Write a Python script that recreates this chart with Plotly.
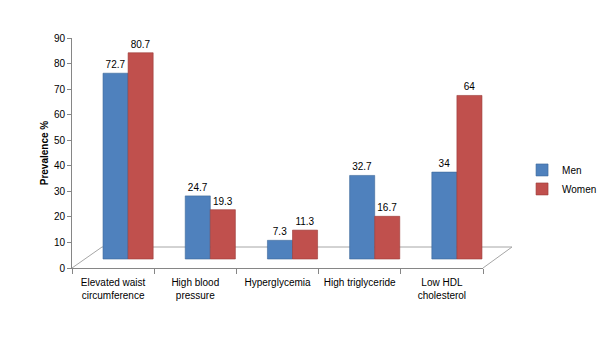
import plotly.graph_objects as go

categories = ["Elevated waist<br>circumference", "High blood<br>pressure", "Hyperglycemia",
              "High triglyceride", "Low HDL<br>cholesterol"]
men = [72.7, 24.7, 7.3, 32.7, 34]
women = [80.7, 19.3, 11.3, 16.7, 64]
men_labels = ["72.7", "24.7", "7.3", "32.7", "34"]
women_labels = ["80.7", "19.3", "11.3", "16.7", "64"]

W, H = 601, 362
L, R, T, B = 72, 483, 38, 268  # plot area pixel bounds
pw, ph = R - L, B - T
dx_px, dy_px = 15, 9  # pseudo-3D depth offset for the bars
cat_w = pw / 5
x_shift = dx_px / cat_w
y_shift = dy_px / (ph / 90)

font = "Liberation Sans, Arial, sans-serif"
blue = "#4F81BD"
red = "#C0504D"

fig = go.Figure()
# invisible trace to populate the visible category axis
fig.add_trace(go.Scatter(x=categories, y=[0] * 5, mode="markers", marker=dict(opacity=0),
                         showlegend=False, hoverinfo="skip", xaxis="x", yaxis="y"))
fig.add_trace(go.Bar(name="Men", x=categories, y=men, text=men_labels, textposition="outside",
                     marker=dict(color=blue, line=dict(color="#3A6699", width=0.6)),
                     textfont=dict(size=10, color="#000000", family=font), cliponaxis=False,
                     xaxis="x2", yaxis="y2"))
fig.add_trace(go.Bar(name="Women", x=categories, y=women, text=women_labels, textposition="outside",
                     marker=dict(color=red, line=dict(color="#9A3A38", width=0.6)),
                     textfont=dict(size=10, color="#000000", family=font), cliponaxis=False,
                     xaxis="x2", yaxis="y2"))

def px_x(p):
    return (p - L) / pw

def px_y(p):
    return (B - p) / ph

back_y = B - 21
shapes = [
    dict(type="line", xref="paper", yref="paper", x0=px_x(L), y0=0, x1=px_x(L + 30), y1=px_y(back_y),
         line=dict(color="#A6A6A6", width=1), layer="below"),
    dict(type="line", xref="paper", yref="paper", x0=px_x(L + 30), y0=px_y(back_y), x1=px_x(R + 29), y1=px_y(back_y),
         line=dict(color="#A6A6A6", width=1), layer="below"),
    dict(type="line", xref="paper", yref="paper", x0=1, y0=0, x1=px_x(R + 29), y1=px_y(back_y),
         line=dict(color="#A6A6A6", width=1), layer="below"),
]

fig.update_layout(
    width=W, height=H,
    margin=dict(l=L, r=W - R, t=T, b=H - B, autoexpand=False),
    paper_bgcolor="white", plot_bgcolor="rgba(0,0,0,0)",
    font=dict(family=font, size=10, color="#000000"),
    barmode="group", bargap=0.39, bargroupgap=0.0,
    shapes=shapes,
    xaxis=dict(type="category", categoryarray=categories, range=[-0.5, 4.5],
               showline=True, linecolor="#868686", linewidth=1, tickangle=0, automargin=False,
               ticks="outside", tickson="boundaries", ticklen=5, tickcolor="#868686",
               ticklabelstandoff=5,
               showgrid=False, zeroline=False, tickfont=dict(size=10, family=font)),
    yaxis=dict(range=[0, 90], dtick=10, showline=True, linecolor="#868686", linewidth=1,
               automargin=False,
               ticks="outside", ticklen=4, tickcolor="#868686", showgrid=False, zeroline=False,
               title=dict(text="<b>Prevalence %</b>", font=dict(size=10, family=font), standoff=3),
               tickfont=dict(size=10, family=font)),
    xaxis2=dict(type="category", categoryarray=categories,
                range=[-0.5 - x_shift, 4.5 - x_shift], overlaying="x", visible=False),
    yaxis2=dict(range=[-y_shift, 90 - y_shift], overlaying="y", visible=False),
    legend=dict(x=1.095, y=0.385, xanchor="left", yanchor="middle", font=dict(size=10, family=font),
                bgcolor="rgba(0,0,0,0)", tracegroupgap=0),
    showlegend=True,
)

fig.write_html("out.html", config={"displayModeBar": False},
               post_script="document.body.style.margin='0';")
